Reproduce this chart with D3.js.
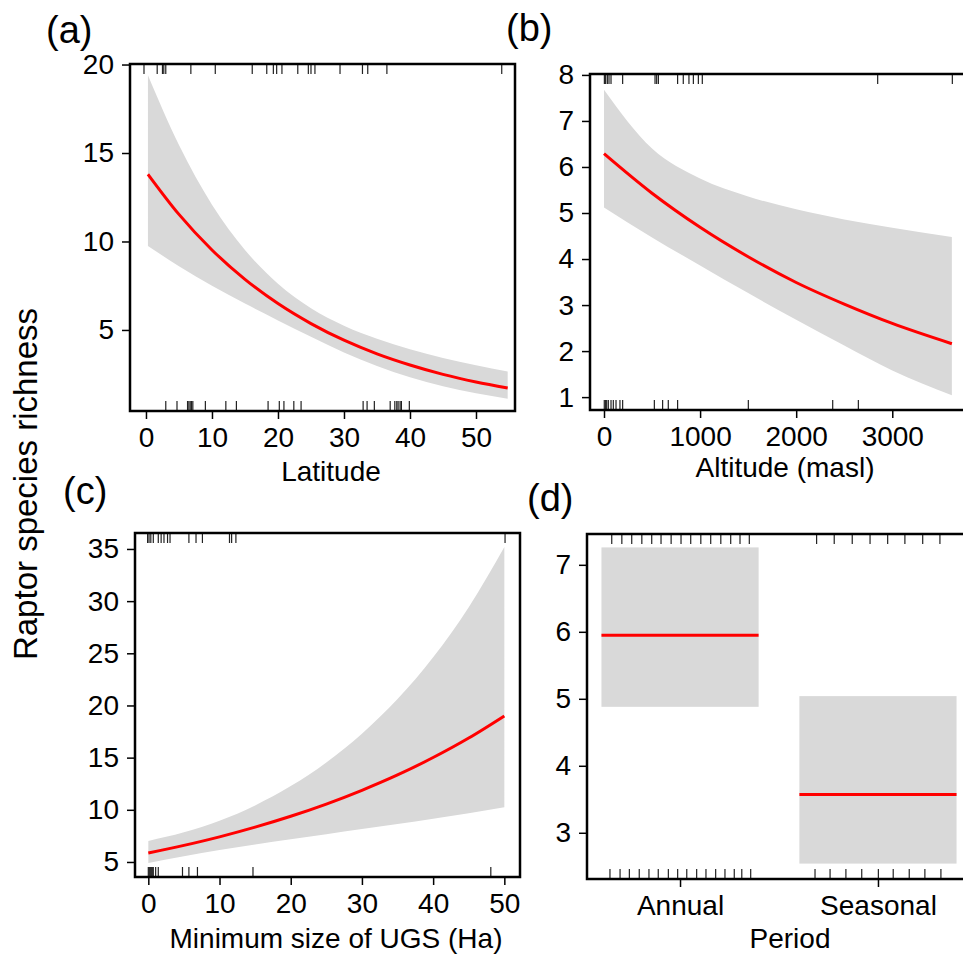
<!DOCTYPE html>
<html>
<head>
<meta charset="utf-8">
<script src="https://cdn.jsdelivr.net/npm/d3@7"></script>
<style>
  body { margin: 0; background: #fff; }
  svg { display: block; font-family: "Liberation Sans", Arial, sans-serif; }
  .axis text { font-size: 28px; fill: #000; }
  .axis path { display: none; }
  .axis line { stroke: #000; stroke-width: 1.5; }
  .band { fill: #d9d9d9; stroke: none; }
  .fit { fill: none; stroke: #ff0000; stroke-width: 3; }
  .rug { stroke: #222; stroke-width: 1.2; }
  .frame { fill: none; stroke: #000; stroke-width: 2.5; }
</style>
</head>
<body>
<svg width="963" height="960"></svg>
<script>
// (a) latitude
const latX    = [0.3, 5, 10, 15, 20, 25, 30, 35, 40, 45, 50, 54.8];
const latFit  = [13.8, 11.53, 9.52, 7.86, 6.49, 5.36, 4.42, 3.65, 3.02, 2.49, 2.06, 1.72];
const latLow  = [9.75, 8.6, 7.5, 6.49, 5.54, 4.61, 3.73, 2.97, 2.33, 1.82, 1.42, 1.11];
const latHigh = [19.4, 15.45, 12.08, 9.52, 7.61, 6.23, 5.24, 4.5, 3.91, 3.41, 3.0, 2.65];
const latRugTop    = [-0.3, 1.7, 2.5, 2.7, 3.0, 6.8, 10.5, 16.1, 18.3, 19.3, 19.8, 20.6, 23.0, 24.6, 25.0, 25.6, 29.4, 32.8, 33.6, 36.5, 53.9];
const latRugBottom = [3.0, 4.7, 6.3, 6.5, 6.7, 6.9, 7.1, 9.0, 12.1, 13.7, 18.5, 20.2, 20.9, 22.4, 23.5, 32.9, 33.5, 34.6, 37.0, 37.7, 38.0, 38.2, 38.5, 38.7, 39.9];
const latXTicks = [0, 10, 20, 30, 40, 50];
const latYTicks = [5, 10, 15, 20];

// (b) altitude
const altX    = [0, 500, 1000, 1500, 2000, 2500, 3000, 3620];
const altFit  = [6.29, 5.43, 4.69, 4.05, 3.49, 3.02, 2.6, 2.16];
const altLow  = [5.12, 4.47, 3.86, 3.26, 2.68, 2.12, 1.58, 1.04];
const altHigh = [7.68, 6.4, 5.75, 5.36, 5.08, 4.86, 4.68, 4.48];
const altRugTop    = [4, 17, 35, 52, 73, 194, 531, 548, 566, 766, 825, 884, 930, 982, 1023, 2848, 3625];
const altRugBottom = [3, 17, 28, 45, 73, 97, 125, 166, 194, 524, 610, 669, 766, 1502, 2380, 2647];
const altXTicks = [0, 1000, 2000, 3000];
const altYTicks = [1, 2, 3, 4, 5, 6, 7, 8];

// (c) minimum size of UGS
const ugsX    = [0, 5, 10, 15, 20, 25, 30, 35, 40, 45, 50];
const ugsFit  = [5.86, 6.59, 7.41, 8.34, 9.38, 10.55, 11.87, 13.34, 15.01, 16.88, 19.0];
const ugsLow  = [4.9, 5.54, 6.14, 6.67, 7.17, 7.65, 8.15, 8.63, 9.15, 9.68, 10.25];
const ugsHigh = [7.02, 7.84, 8.95, 10.42, 12.27, 14.54, 17.3, 20.61, 24.62, 29.42, 35.2];
const ugsRugTop    = [-0.1, 0.1, 0.35, 0.7, 1.4, 1.8, 2.2, 2.7, 3.05, 5.7, 6.7, 7.6, 11.4, 11.7, 12.3, 50.1];
const ugsRugBottom = [0, 0.14, 0.28, 0.42, 0.56, 0.7, 1.03, 1.4, 4.8, 5.7, 6.9, 14.7, 48.1];
const ugsXTicks = [0, 10, 20, 30, 40, 50];
const ugsYTicks = [5, 10, 15, 20, 25, 30, 35];

// (d) period
const periods    = ["Annual", "Seasonal"];
const periodFit  = [5.95, 3.57];
const periodLow  = [4.88, 2.54];
const periodHigh = [7.26, 5.04];
const periodRugTop    = [0.655, 0.706, 0.756, 0.807, 0.857, 0.904, 0.955, 1.005, 1.054, 1.105, 1.155, 1.206, 1.256, 1.303, 1.35,
                         1.69, 1.779, 1.87, 1.96, 2.049, 2.136, 2.226, 2.313];
const periodRugBottom = [0.646, 0.697, 0.744, 0.794, 0.843, 0.89, 0.941, 0.988, 1.034, 1.084, 1.131, 1.18, 1.227, 1.274, 1.312, 1.357,
                         1.682, 1.758, 1.838, 1.918, 2.002, 2.077, 2.158, 2.237, 2.318];
const periodYTicks = [3, 4, 5, 6, 7];

(function panelsIIFE() {
    const svg = d3.select("svg");
    const rugLen = 10;
    const plain = d3.format("d");

    function drawPanel(p) {
        const g = svg.append("g");
        const x = d3.scaleLinear().domain(p.xDomain).range([p.left, p.right]);
        const y = d3.scaleLinear().domain(p.yDomain).range([p.bottom, p.top]);

        if (p.factor) {
            // confidence boxes and flat fits per level
            const half = 0.397;
            p.fit.forEach(function(f, i) {
                const lv = i + 1;
                g.append("rect").attr("class", "band")
                    .attr("x", x(lv - half))
                    .attr("width", x(lv + half) - x(lv - half))
                    .attr("y", y(p.high[i]))
                    .attr("height", y(p.low[i]) - y(p.high[i]));
                g.append("line").attr("class", "fit")
                    .attr("x1", x(lv - half)).attr("x2", x(lv + half))
                    .attr("y1", y(f)).attr("y2", y(f));
            });
        } else {
            const rows = p.xs.map(function(d, i) {
                return {x: d, fit: p.fit[i], low: p.low[i], high: p.high[i]};
            });
            const area = d3.area()
                .x(function(d) { return x(d.x); })
                .y0(function(d) { return y(d.low); })
                .y1(function(d) { return y(d.high); })
                .curve(d3.curveMonotoneX);
            const line = d3.line()
                .x(function(d) { return x(d.x); })
                .y(function(d) { return y(d.fit); })
                .curve(d3.curveMonotoneX);
            g.append("path").datum(rows).attr("class", "band").attr("d", area);
            g.append("path").datum(rows).attr("class", "fit").attr("d", line);
        }

        g.selectAll(".rug-top").data(p.rugTop).enter().append("line")
            .attr("class", "rug")
            .attr("x1", function(d) { return x(d); })
            .attr("x2", function(d) { return x(d); })
            .attr("y1", p.top).attr("y2", p.top + rugLen);
        g.selectAll(".rug-bottom").data(p.rugBottom).enter().append("line")
            .attr("class", "rug")
            .attr("x1", function(d) { return x(d); })
            .attr("x2", function(d) { return x(d); })
            .attr("y1", p.bottom).attr("y2", p.bottom - rugLen);

        const xAxis = d3.axisBottom(x).tickValues(p.xTicks).tickSize(8).tickPadding(8);
        if (p.factor) {
            xAxis.tickFormat(function(d) { return periods[d - 1]; });
        } else {
            xAxis.tickFormat(plain);
        }
        g.append("g")
            .attr("class", "axis")
            .attr("transform", "translate(0," + p.bottom + ")")
            .call(xAxis);

        g.append("g")
            .attr("class", "axis")
            .attr("transform", "translate(" + p.left + ",0)")
            .call(d3.axisLeft(y).tickValues(p.yTicks).tickFormat(plain).tickSize(8).tickPadding(8));

        g.append("rect").attr("class", "frame")
            .attr("x", p.left).attr("y", p.top)
            .attr("width", p.right - p.left).attr("height", p.bottom - p.top);

        g.append("text")
            .attr("x", p.titleX).attr("y", p.titleY)
            .attr("text-anchor", "middle")
            .style("font-size", "28px")
            .text(p.title);

        g.append("text")
            .attr("x", p.letterX).attr("y", p.letterY)
            .style("font-size", "38px")
            .text(p.letter);
    }

    drawPanel({
        left: 130, right: 515, top: 64, bottom: 411,
        xDomain: [-2.42, 55.91], yDomain: [0.42, 20.03],
        xs: latX, fit: latFit, low: latLow, high: latHigh,
        rugTop: latRugTop, rugBottom: latRugBottom,
        xTicks: latXTicks, yTicks: latYTicks,
        title: "Latitude", titleX: 331, titleY: 481,
        letter: "(a)", letterX: 46, letterY: 43
    });

    drawPanel({
        left: 590, right: 968, top: 74, bottom: 410,
        xDomain: [-145.7, 3788], yDomain: [0.72, 8.02],
        xs: altX, fit: altFit, low: altLow, high: altHigh,
        rugTop: altRugTop, rugBottom: altRugBottom,
        xTicks: altXTicks, yTicks: altYTicks,
        title: "Altitude (masl)", titleX: 785, titleY: 477,
        letter: "(b)", letterX: 506, letterY: 41
    });

    drawPanel({
        left: 135, right: 520, top: 533, bottom: 877,
        xDomain: [-1.87, 52.2], yDomain: [3.56, 36.53],
        xs: ugsX, fit: ugsFit, low: ugsLow, high: ugsHigh,
        rugTop: ugsRugTop, rugBottom: ugsRugBottom,
        xTicks: ugsXTicks, yTicks: ugsYTicks,
        title: "Minimum size of UGS (Ha)", titleX: 336, titleY: 948,
        letter: "(c)", letterX: 63, letterY: 504
    });

    drawPanel({
        factor: true,
        left: 587, right: 971, top: 534, bottom: 879,
        xDomain: [0.53, 2.47], yDomain: [2.31, 7.46],
        fit: periodFit, low: periodLow, high: periodHigh,
        rugTop: periodRugTop, rugBottom: periodRugBottom,
        xTicks: [1, 2], yTicks: periodYTicks,
        title: "Period", titleX: 790, titleY: 948,
        letter: "(d)", letterX: 527, letterY: 511
    });

    svg.append("text")
        .attr("transform", "translate(37,484) rotate(-90)")
        .attr("text-anchor", "middle")
        .style("font-size", "33px")
        .text("Raptor species richness");
})();
</script>
</body>
</html>
